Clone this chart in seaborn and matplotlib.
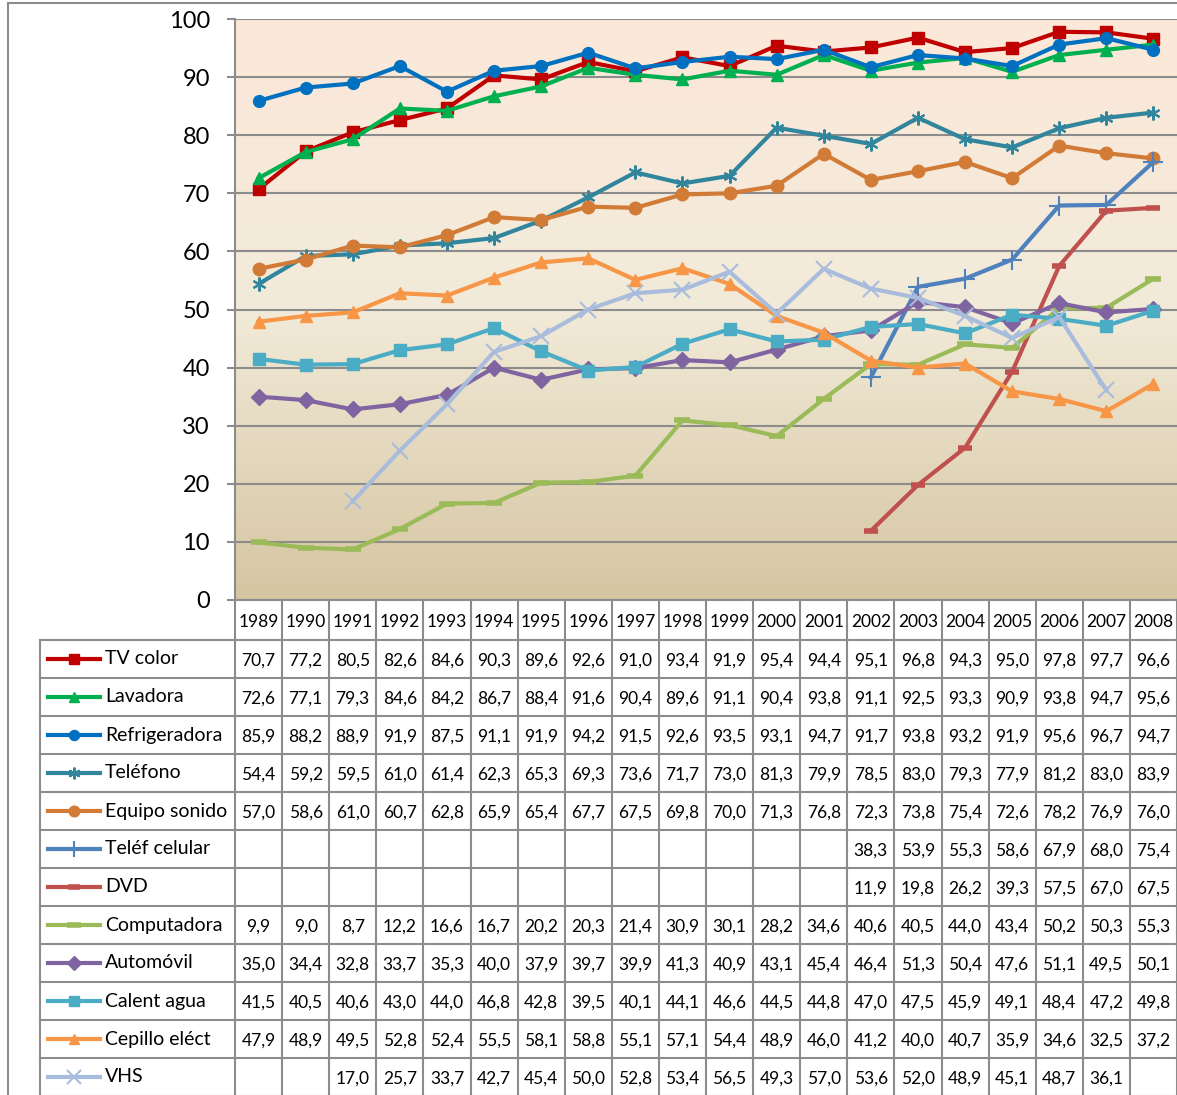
import numpy as np
import pandas as pd
import seaborn as sns
import matplotlib.pyplot as plt
from matplotlib.colors import LinearSegmentedColormap
from matplotlib.lines import Line2D

plt.rcParams['font.family'] = ['Lato', 'DejaVu Sans']

nan = np.nan
years = list(range(1989, 2009))

tv_color = [70.7, 77.2, 80.5, 82.6, 84.6, 90.3, 89.6, 92.6, 91.0, 93.4, 91.9, 95.4, 94.4, 95.1, 96.8, 94.3, 95.0, 97.8, 97.7, 96.6]
lavadora = [72.6, 77.1, 79.3, 84.6, 84.2, 86.7, 88.4, 91.6, 90.4, 89.6, 91.1, 90.4, 93.8, 91.1, 92.5, 93.3, 90.9, 93.8, 94.7, 95.6]
refrigeradora = [85.9, 88.2, 88.9, 91.9, 87.5, 91.1, 91.9, 94.2, 91.5, 92.6, 93.5, 93.1, 94.7, 91.7, 93.8, 93.2, 91.9, 95.6, 96.7, 94.7]
telefono = [54.4, 59.2, 59.5, 61.0, 61.4, 62.3, 65.3, 69.3, 73.6, 71.7, 73.0, 81.3, 79.9, 78.5, 83.0, 79.3, 77.9, 81.2, 83.0, 83.9]
equipo_sonido = [57.0, 58.6, 61.0, 60.7, 62.8, 65.9, 65.4, 67.7, 67.5, 69.8, 70.0, 71.3, 76.8, 72.3, 73.8, 75.4, 72.6, 78.2, 76.9, 76.0]
telef_celular = [nan] * 13 + [38.3, 53.9, 55.3, 58.6, 67.9, 68.0, 75.4]
dvd = [nan] * 13 + [11.9, 19.8, 26.2, 39.3, 57.5, 67.0, 67.5]
computadora = [9.9, 9.0, 8.7, 12.2, 16.6, 16.7, 20.2, 20.3, 21.4, 30.9, 30.1, 28.2, 34.6, 40.6, 40.5, 44.0, 43.4, 50.2, 50.3, 55.3]
automovil = [35.0, 34.4, 32.8, 33.7, 35.3, 40.0, 37.9, 39.7, 39.9, 41.3, 40.9, 43.1, 45.4, 46.4, 51.3, 50.4, 47.6, 51.1, 49.5, 50.1]
calent_agua = [41.5, 40.5, 40.6, 43.0, 44.0, 46.8, 42.8, 39.5, 40.1, 44.1, 46.6, 44.5, 44.8, 47.0, 47.5, 45.9, 49.1, 48.4, 47.2, 49.8]
cepillo_elect = [47.9, 48.9, 49.5, 52.8, 52.4, 55.5, 58.1, 58.8, 55.1, 57.1, 54.4, 48.9, 46.0, 41.2, 40.0, 40.7, 35.9, 34.6, 32.5, 37.2]
vhs = [nan, nan, 17.0, 25.7, 33.7, 42.7, 45.4, 50.0, 52.8, 53.4, 56.5, 49.3, 57.0, 53.6, 52.0, 48.9, 45.1, 48.7, 36.1, nan]

labels = ['TV color', 'Lavadora', 'Refrigeradora', 'Teléfono', 'Equipo sonido', 'Teléf celular',
          'DVD', 'Computadora', 'Automóvil', 'Calent agua', 'Cepillo eléct', 'VHS']
series = [tv_color, lavadora, refrigeradora, telefono, equipo_sonido, telef_celular,
          dvd, computadora, automovil, calent_agua, cepillo_elect, vhs]

# color, marker, markersize, markeredgewidth
styles = [
    ('#C00000', 's', 8, 1),
    ('#00B050', '^', 9, 1),
    ('#0070C0', 'o', 8.5, 1),
    ('#31859C', (6, 2, 0), 10, 1.5),
    ('#D17B36', 'o', 9, 1),
    ('#4F81BD', '+', 14, 1.5),
    ('#C0504D', '_', 10, 4),
    ('#9BBB59', '_', 12, 4),
    ('#8064A2', 'D', 8, 1),
    ('#4BACC6', 's', 9, 1),
    ('#F79646', '^', 9, 1),
    ('#A9BCDC', 'x', 12, 1.5),
]

W, H = 1177, 1095
fig = plt.figure(figsize=(W / 100, H / 100), dpi=100)
grey = '#8C8C8C'

# main plot area
ax = fig.add_axes([235 / W, (H - 600) / H, (W - 235) / W, (600 - 19) / H])
xs = np.arange(len(years))

grad = LinearSegmentedColormap.from_list('bg', [(0, '#D5C5A1'), (0.5, '#F2EBD9'), (1, '#FCE8DA')])
ax.imshow(np.linspace(0, 1, 256).reshape(-1, 1), cmap=grad, origin='lower',
          extent=[-0.5, 19.5, 0, 100], aspect='auto', zorder=0)

for name, vals, (c, m, ms, mew) in zip(labels, series, styles):
    sns.lineplot(x=xs, y=vals, ax=ax, color=c, marker=m, markersize=ms,
                 markeredgecolor=c, markeredgewidth=mew, lw=3, zorder=3)

ax.set_xlim(-0.5, 19.5)
ax.set_ylim(0, 100)
ax.set_yticks(range(0, 101, 10))
ax.set_xticks([])
ax.grid(axis='y', color=grey, lw=1.5, zorder=1)
ax.set_axisbelow(False)
for s in ['top', 'right']:
    ax.spines[s].set_visible(False)
for s in ['left', 'bottom']:
    ax.spines[s].set_color(grey)
    ax.spines[s].set_linewidth(1.5)
ax.tick_params(axis='y', length=6, width=1.5, color=grey, labelsize=17, pad=12)
ax.set_xlabel('')
ax.set_ylabel('')
for gl in ax.get_ygridlines():
    gl.set_zorder(1)

# data table with legend keys
tax = fig.add_axes([40 / W, 0, (W - 40) / W, (H - 600) / H])
cw = (W - 235) / 20
xl = -0.5 - (235 - 40) / cw
tax.set_xlim(xl, 19.5)
tax.set_ylim(H, 600)
tax.axis('off')

def px(p):
    return -0.5 + (p - 235) / cw

row_h = 38
top = 640
for k in range(len(labels) + 1):
    y = top + k * row_h
    tax.plot([xl, 19.5], [y, y], color=grey, lw=1.5, clip_on=False)
for k in range(21):
    tax.plot([k - 0.5, k - 0.5], [600, H], color=grey, lw=1.5, clip_on=False)
tax.plot([xl, xl], [top, H], color=grey, lw=1.5, clip_on=False)

for i, yr in enumerate(years):
    tax.text(i, 622, str(yr), ha='center', va='center', fontsize=12.5)

for r, (name, vals, (c, m, ms, mew)) in enumerate(zip(labels, series, styles)):
    yc = top + r * row_h + row_h / 2
    tax.add_line(Line2D([px(48), px(100)], [yc, yc], color=c, lw=3))
    tax.add_line(Line2D([px(74)], [yc], color=c, marker=m, markersize=ms * 0.85,
                        markeredgecolor=c, markeredgewidth=mew, lw=0))
    tax.text(px(105), yc, name, ha='left', va='center', fontsize=14)
    for i, v in enumerate(vals):
        if not np.isnan(v):
            tax.text(i, yc + 2, f'{v:.1f}'.replace('.', ','), ha='center', va='center', fontsize=12.5)

# outer chart border
fig.add_artist(Line2D([8 / W, 8 / W], [0, (H - 3) / H], color=grey, lw=1.5))
fig.add_artist(Line2D([8 / W, 1], [(H - 3) / H, (H - 3) / H], color=grey, lw=1.5))

fig.savefig('out.png', dpi=100)
